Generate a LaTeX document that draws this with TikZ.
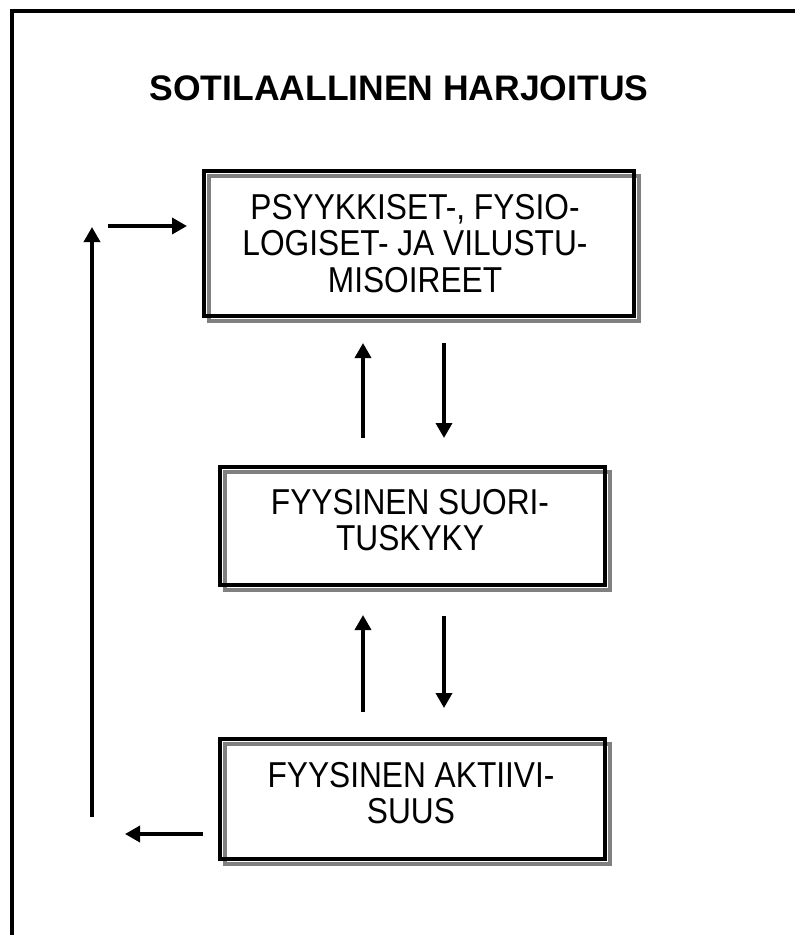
\documentclass[tikz,border=0pt]{standalone}
\usepackage{fontspec}
\setmainfont{Liberation Sans}
\newfontfamily\boxfont[FakeStretch=0.88]{Liberation Sans}
\usetikzlibrary{arrows.meta}
\definecolor{shadowgray}{RGB}{128,128,128}
\pgfdeclarelayer{bg}
\pgfsetlayers{bg,main}
\begin{document}
\begin{tikzpicture}[x=1bp,y=-1bp,
  frameline/.style={line width=4bp, line join=miter},
  boxline/.style={draw=black, line width=4bp, inner sep=0pt, outer sep=0pt, anchor=north west},
  shadowline/.style={draw=shadowgray, line width=4bp},
  flow/.style={line width=3.5bp, -{Triangle[width=16bp,length=15bp]}},
  boxtext/.style={font=\boxfont\fontsize{36bp}{36.5bp}\selectfont, align=center, inner sep=0pt, anchor=north},
  titletext/.style={font=\bfseries\fontsize{35.5bp}{40bp}\selectfont, inner sep=0pt, anchor=base}]
\useasboundingbox (0,0) rectangle (795,935);

% page frame (top and left rule)
\draw[frameline] (12,935) -- (12,11) -- (795,11);

% heading
\node[titletext] (title) at (399,100) {SOTILAALLINEN HARJOITUS};

% the three boxes
\node[boxline, minimum width=430bp, minimum height=145bp] (oireet) at (204,171) {};
\node[boxline, minimum width=385bp, minimum height=118bp] (suoritus) at (220,467) {};
\node[boxline, minimum width=385bp, minimum height=120bp] (aktiivisuus) at (220,739) {};

% offset grey outlines behind each box
\begin{pgfonlayer}{bg}
  \foreach \b in {oireet,suoritus,aktiivisuus}
    \draw[shadowline] ([shift={(5,5)}]\b.north west) rectangle ([shift={(5,5)}]\b.south east);
\end{pgfonlayer}

% box texts
\node[boxtext] (t1) at (415,194) {PSYYKKISET-, FYSIO-\\LOGISET- JA VILUSTU-\\MISOIREET};
\node[boxtext] (t2) at (410,489) {FYYSINEN SUORI-\\TUSKYKY};
\node[boxtext] (t3) at (411,762) {FYYSINEN AKTIIVI-\\SUUS};

% arrow end points
\coordinate (u1s) at (363,438); \coordinate (u1e) at (363,343);
\coordinate (d1s) at (444,343); \coordinate (d1e) at (444,438);
\coordinate (u2s) at (363,712); \coordinate (u2e) at (363,615);
\coordinate (d2s) at (444,616); \coordinate (d2e) at (444,708);
\coordinate (ls)  at (92,817);  \coordinate (le)  at (92,227);
\coordinate (ts)  at (108,226); \coordinate (te)  at (187,226);
\coordinate (bs)  at (203,834); \coordinate (be)  at (125,834);

\draw[flow] (u1s) -- (u1e);
\draw[flow] (d1s) -- (d1e);
\draw[flow] (u2s) -- (u2e);
\draw[flow] (d2s) -- (d2e);
\draw[flow] (ls) -- (le);
\draw[flow] (ts) -- (te);
\draw[flow] (bs) -- (be);
\end{tikzpicture}
\end{document}
